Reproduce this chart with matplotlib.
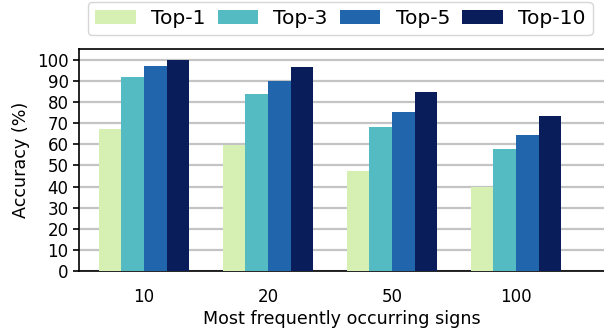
import matplotlib
matplotlib.use("Agg")
import matplotlib.pyplot as plt
import numpy as np

groups = ["10", "20", "50", "100"]
series = ["Top-1", "Top-3", "Top-5", "Top-10"]
top1 = [67.3, 59.7, 47.4, 40.0]
top3 = [91.9, 83.7, 68.2, 57.8]
top5 = [97.2, 90.0, 75.4, 64.5]
top10 = [100.0, 96.7, 84.8, 73.5]
colors = ["#d6efb3", "#55bbc2", "#2166ac", "#081d59"]

plt.rcParams["font.family"] = "DejaVu Sans"

fig = plt.figure(figsize=(6.04, 3.31), dpi=100)
W, H = 604, 331
left, bottom, top = 79, 271, 49
right = 604
ax = fig.add_axes([left / W, 1 - bottom / H, (right - left) / W, (bottom - top) / H])

x = np.arange(len(groups))
width = 0.183
for i, (name, vals) in enumerate(zip(series, [top1, top3, top5, top10])):
    ax.bar(x + (i - 1.5) * width, vals, width, color=colors[i], label=name, zorder=3)

ax.set_xlim(-0.524, -0.524 + (right - left) / 124)
ax.set_ylim(0, 105.2)
ax.set_yticks(range(0, 101, 10))
ax.set_xticks(x)
ax.set_xticklabels(groups)
ax.yaxis.grid(True, color="#c4c4c4", linewidth=1.6, zorder=0)
ax.set_axisbelow(True)
ax.tick_params(axis="y", labelsize=12, length=4.5, width=1.2, pad=3)
ax.tick_params(axis="x", labelsize=12, length=0, pad=12)
for s in ["left", "bottom", "top"]:
    ax.spines[s].set_linewidth(1.2)
    ax.spines[s].set_color("black")
ax.spines["right"].set_visible(False)

ax.set_ylabel("Accuracy (%)", fontsize=12.6, labelpad=5)
ax.set_xlabel("Most frequently occurring signs", fontsize=12.6, labelpad=3)

fig.legend(loc="upper left", bbox_to_anchor=(88 / W, 1 - 2 / H), ncol=4,
           fontsize=14.6, handlelength=2.0, handleheight=0.7, handletextpad=0.75,
           columnspacing=0.6, frameon=True, borderpad=0.35, borderaxespad=0)

fig.savefig("out.png", dpi=100)
